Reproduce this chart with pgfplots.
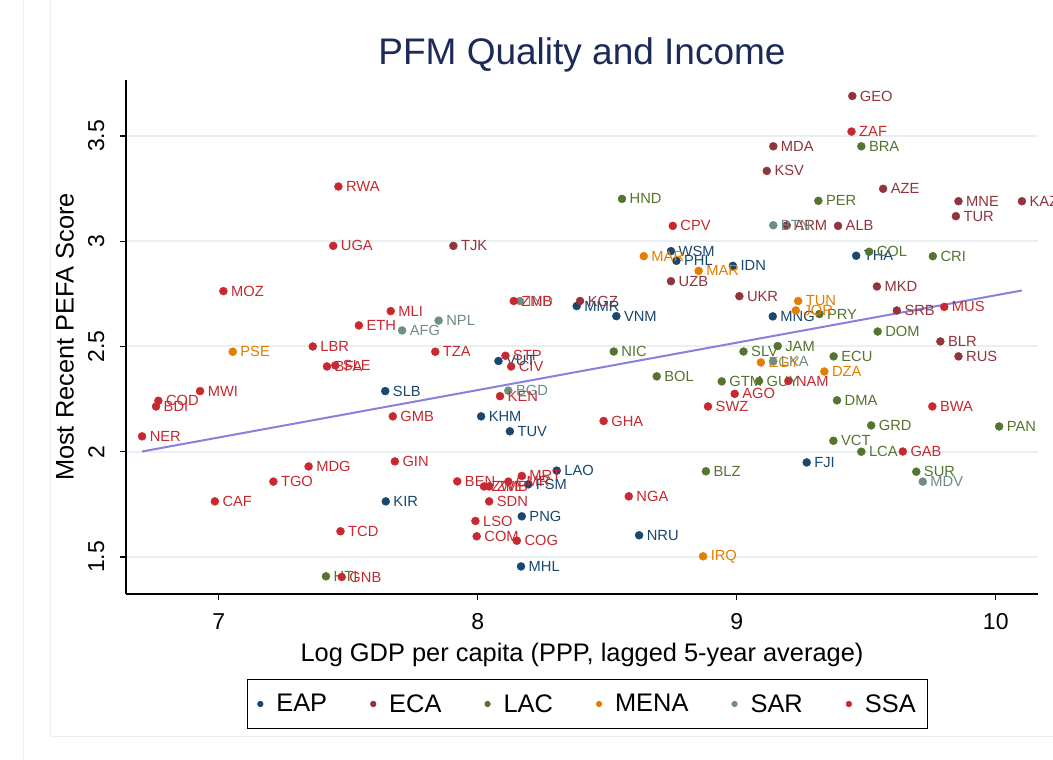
\documentclass[border=0pt]{standalone}
\usepackage{fontspec}
\setmainfont{Liberation Sans}
\usepackage{pgfplots}
\pgfplotsset{compat=1.18}
\definecolor{eap}{RGB}{26,71,111}
\definecolor{eca}{RGB}{144,53,59}
\definecolor{lac}{RGB}{85,117,47}
\definecolor{mena}{RGB}{227,126,0}
\definecolor{sar}{RGB}{110,142,132}
\definecolor{ssa}{RGB}{200,40,48}
\definecolor{fitc}{RGB}{140,128,222}
\definecolor{gridc}{RGB}{232,240,241}
\definecolor{titlec}{RGB}{28,42,88}
\newcommand{\lbl}{\fontsize{14.7}{16}\selectfont}
\pgfplotsset{
  grp/.style={only marks, color=#1, mark=*, mark size=4pt,
    mark options={draw=none, fill=#1},
    nodes near coords, point meta=explicit symbolic,
    every node near coord/.append style={anchor=west, inner sep=0pt, xshift=7.5pt, text=#1, font=\lbl}},
}
\begin{document}
\begin{tikzpicture}
\useasboundingbox (-126pt,-166pt) rectangle (927pt,594pt);
\fill[white] (-126pt,-166pt) rectangle (927pt,594pt);
\draw[gridc, line width=1pt] (-102pt,-166pt) -- (-102pt,594pt);
\draw[gridc, line width=1pt] (-75pt,594pt) -- (-75pt,-143pt) -- (927pt,-143pt);
\begin{axis}[
  at={(0pt,0pt)}, anchor=south west,
  scale only axis, width=912pt, height=514pt,
  xmin=6.642, xmax=10.163, ymin=1.324, ymax=3.766,
  clip=false,
  axis x line*=bottom, axis y line*=left,
  axis line style={black, line width=1.2pt},
  tick style={black, line width=1.2pt},
  major tick length=6pt, tick align=outside,
  xtick={7,8,9,10}, ytick={1.5,2,2.5,3,3.5},
  /pgf/number format/assume math mode=true,
  ticklabel style={font=\fontsize{23}{26}\selectfont},
  xticklabel style={yshift=-10pt},
  yticklabel style={xshift=-12pt, rotate=90, anchor=south},
  ymajorgrids, grid style={gridc, line width=2pt},
  title={PFM Quality and Income},
  title style={at={(axis description cs:0.5,1.0175)}, anchor=base, font=\fontsize{37}{40}\selectfont, text=titlec},
  xlabel={Log GDP per capita (PPP, lagged 5-year average)},
  xlabel style={at={(axis description cs:0.5,-0.1323)}, anchor=base, font=\fontsize{25.4}{28}\selectfont},
  ylabel={Most Recent PEFA Score},
  ylabel style={at={(axis description cs:-0.067,0.5)}, rotate=0, anchor=center, font=\fontsize{25.4}{28}\selectfont},
  legend columns=6,
  legend image code/.code={\fill (0pt,0pt) circle (2.6pt); \path[draw=none, fill=none] (-2.6pt,0pt) rectangle (14pt,0.1pt);},
  legend style={at={(axis description cs:0.506,-0.214)}, anchor=center, draw=black, line width=1pt,
    font=\fontsize{25.4}{30}\selectfont, inner xsep=10pt, inner ysep=13pt,
    /tikz/every even column/.append style={column sep=41pt}},
]
\addplot[grp=eap] table[x=x,y=y,meta=lab] {
x y lab
8.746 2.953 WSM
8.767 2.907 PHL
8.985 2.883 IDN
8.382 2.692 MMR
8.535 2.644 VNM
9.139 2.643 MNG
9.461 2.931 THA
8.080 2.431 VUT
7.643 2.288 SLB
8.013 2.168 KHM
8.124 2.097 TUV
8.305 1.910 LAO
8.195 1.845 FSM
7.645 1.764 KIR
8.170 1.693 PNG
8.623 1.603 NRU
8.167 1.455 MHL
9.270 1.949 FJI
};
\addlegendentry{EAP}
\addplot[grp=eca] table[x=x,y=y,meta=lab] {
x y lab
9.446 3.690 GEO
9.141 3.451 MDA
9.116 3.334 KSV
9.565 3.249 AZE
9.856 3.190 MNE
10.101 3.190 KAZ
9.846 3.119 TUR
9.193 3.075 ARM
9.391 3.073 ALB
7.906 2.978 TJK
8.746 2.810 UZB
9.010 2.739 UKR
8.395 2.716 KGZ
9.541 2.785 MKD
9.618 2.671 SRB
9.786 2.524 BLR
9.856 2.453 RUS
};
\addlegendentry{ECA}
\addplot[grp=lac] table[x=x,y=y,meta=lab] {
x y lab
9.481 3.451 BRA
9.315 3.192 PER
8.557 3.201 HND
9.511 2.950 COL
9.757 2.929 CRI
9.319 2.654 PRY
9.544 2.571 DOM
8.525 2.476 NIC
9.026 2.476 SLV
9.158 2.502 JAM
9.374 2.453 ECU
8.691 2.358 BOL
8.942 2.334 GTM
9.086 2.336 GUY
9.387 2.244 DMA
9.519 2.125 GRD
10.013 2.120 PAN
9.373 2.052 VCT
9.481 2.000 LCA
9.693 1.905 SUR
8.881 1.907 BLZ
7.414 1.408 HTI
};
\addlegendentry{LAC}
\addplot[grp=mena] table[x=x,y=y,meta=lab] {
x y lab
8.641 2.929 MAR
8.853 2.859 MAR
9.237 2.716 TUN
9.228 2.671 JOR
9.093 2.424 EGY
9.338 2.381 DZA
7.054 2.475 PSE
8.870 1.503 IRQ
};
\addlegendentry{MENA}
\addplot[grp=sar] table[x=x,y=y,meta=lab] {
x y lab
9.141 3.076 BTN
7.849 2.623 NPL
7.708 2.576 AFG
8.163 2.716 IND
8.118 2.290 BGD
9.141 2.429 LKA
9.718 1.858 MDV
};
\addlegendentry{SAR}
\addplot[grp=ssa] table[x=x,y=y,meta=lab] {
x y lab
9.443 3.521 ZAF
7.462 3.260 RWA
8.753 3.073 CPV
7.442 2.978 UGA
7.018 2.763 MOZ
7.664 2.668 MLI
7.541 2.600 ETH
8.139 2.716 ZMB
9.801 2.688 MUS
7.363 2.500 LBR
7.836 2.475 TZA
7.418 2.405 BFA
7.450 2.410 SLE
8.107 2.456 STP
8.129 2.405 CIV
6.928 2.288 MWI
6.767 2.242 COD
6.758 2.215 BDI
6.704 2.073 NER
7.672 2.168 GMB
8.086 2.264 KEN
8.992 2.275 AGO
8.889 2.215 SWZ
9.199 2.336 NAM
8.486 2.146 GHA
9.755 2.215 BWA
9.641 2.001 GAB
7.347 1.930 MDG
7.680 1.954 GIN
7.211 1.858 TGO
6.985 1.764 CAF
7.470 1.622 TCD
7.475 1.405 GNB
7.921 1.859 BEN
8.024 1.835 ZWE
8.044 1.835 ZMB
8.118 1.858 CMR
8.170 1.885 MRT
8.044 1.764 SDN
8.583 1.788 NGA
7.991 1.671 LSO
7.996 1.598 COM
8.151 1.577 COG
};
\addlegendentry{SSA}
\addplot[fitc, line width=2pt, forget plot] coordinates {(6.704,2.001) (10.101,2.766)};
\end{axis}
\end{tikzpicture}
\end{document}
